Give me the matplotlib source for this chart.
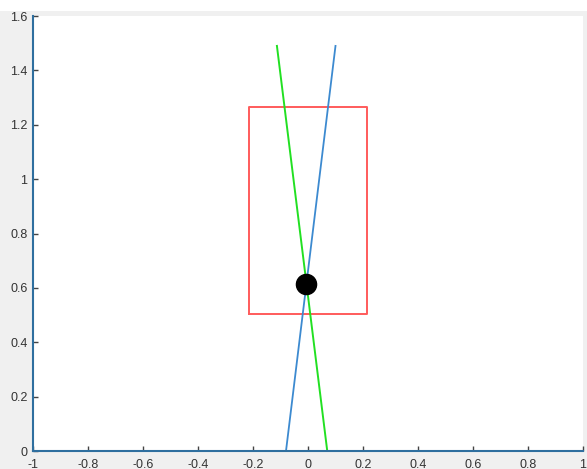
import matplotlib
matplotlib.use("Agg")
import matplotlib.pyplot as plt
from matplotlib.patches import Rectangle

# Data
blue_x = [-0.08, 0.10]
blue_y = [0.0, 1.49]
green_x = [0.07, -0.113]
green_y = [0.0, 1.49]
rect_x = [-0.215, 0.215, 0.215, -0.215, -0.215]
rect_y = [0.505, 0.505, 1.265, 1.265, 0.505]
dot_x = [-0.006]
dot_y = [0.615]
xticks = [-1, -0.8, -0.6, -0.4, -0.2, 0, 0.2, 0.4, 0.6, 0.8, 1]
xtick_labels = ["-1", "-0.8", "-0.6", "-0.4", "-0.2", "0", "0.2", "0.4", "0.6", "0.8", "1"]
yticks = [0, 0.2, 0.4, 0.6, 0.8, 1.0, 1.2, 1.4, 1.6]
ytick_labels = ["0", "0.2", "0.4", "0.6", "0.8", "1", "1.2", "1.4", "1.6"]

plt.rcParams['font.family'] = ['Liberation Sans', 'DejaVu Sans']

fig = plt.figure(figsize=(5.87, 4.69), dpi=100)
fig.patch.set_facecolor('#f0f0f0')
# white strip at the very top
fig.patches.append(Rectangle((0, 1 - 11/469), 1, 11/469, transform=fig.transFigure,
                             facecolor='white', edgecolor='none', zorder=0))

ax = fig.add_axes([33/587, 18/469, 550/587, 435/469])
ax.set_facecolor('white')

ax.plot(rect_x, rect_y, color='#ff4a4a', lw=1.4, alpha=0.9)
ax.plot(green_x, green_y, color='#22e022', lw=1.4)
ax.plot(blue_x, blue_y, color='#3c8ad0', lw=1.3)
ax.plot(dot_x, dot_y, 'o', color='black', markersize=14.5)

ax.set_xlim(-1, 1)
ax.set_ylim(0, 1.6)
ax.set_xticks(xticks)
ax.set_xticklabels(xtick_labels)
ax.set_yticks(yticks)
ax.set_yticklabels(ytick_labels)

for s in ['top', 'right']:
    ax.spines[s].set_visible(False)
for s in ['left', 'bottom']:
    ax.spines[s].set_color('#2f6f9f')
    ax.spines[s].set_linewidth(1.5)

ax.tick_params(direction='in', length=3.5, width=1, color='#444444',
               labelsize=9, labelcolor='#333333')
ax.tick_params(axis='x', pad=6)
ax.tick_params(axis='y', pad=4)

fig.savefig('out.png', dpi=100, facecolor=fig.get_facecolor())
